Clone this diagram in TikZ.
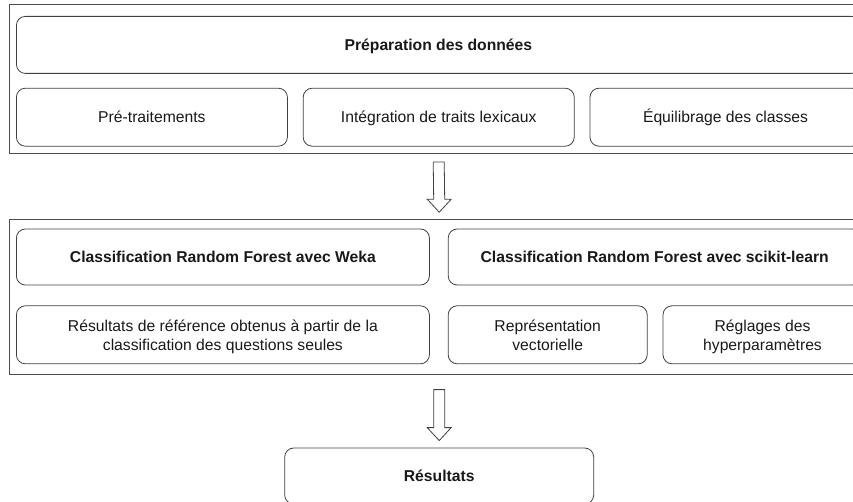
\documentclass[tikz,border=0pt]{standalone}
\usepackage{fontspec}
\setmainfont{Liberation Sans}
\usetikzlibrary{positioning,fit,calc}
\tikzstyle{block} = [rectangle, draw=black!75, line width=0.8pt, rounded corners=9pt, align=center, inner sep=0pt, minimum height=57pt, text depth=0pt, text=black!90, font=\fontsize{15.7}{19}\selectfont]
\tikzstyle{oneline} = [block, text height=11.2pt]
\tikzstyle{title} = [oneline, font=\fontsize{15.7}{19}\selectfont\bfseries]
\tikzstyle{panel} = [rectangle, draw=black!70, line width=0.8pt, inner sep=7pt]
\tikzstyle{hollow} = [draw=black!75, line width=0.8pt, line join=miter, to path={
    ([xshift=-5.5pt]\tikztostart) -- ([xshift=-5.5pt, yshift=13pt]\tikztotarget)
    -- ([xshift=-12pt, yshift=13pt]\tikztotarget) -- (\tikztotarget)
    -- ([xshift=12pt, yshift=13pt]\tikztotarget) -- ([xshift=5.5pt, yshift=13pt]\tikztotarget)
    -- ([xshift=5.5pt]\tikztostart) -- cycle}]

\begin{document}
\begin{tikzpicture}[x=1pt, y=1pt]
    \useasboundingbox (0,0) rectangle (853,-502);

    % Préparation des données
    \node[title, minimum width=844pt, anchor=north west] (prep) at (16,-16) {Préparation des données};
    \node[oneline, minimum width=271pt, minimum height=58pt, below right=14pt and 0pt of prep.south west] (pre) {Pré-traitements};
    \node[oneline, minimum width=271pt, minimum height=58pt, right=15pt of pre] (integ) {Intégration de traits lexicaux};
    \node[oneline, minimum width=271pt, minimum height=58pt, right=15pt of integ] (equi) {Équilibrage des classes};
    \node[panel, fit={([yshift=5pt]prep.north west) (equi.south east)}] (stage1) {};

    % Classification
    \node[title, minimum width=413pt, minimum height=56pt, below right=82pt and 0pt of pre.south west] (weka) {Classification Random Forest avec Weka};
    \node[title, minimum width=413pt, minimum height=56pt, right=18pt of weka] (sklearn) {Classification Random Forest avec scikit-learn};
    \node[block, minimum width=413pt, minimum height=58pt, below right=20pt and 0pt of weka.south west] (ref) {Résultats de référence obtenus à partir de la\\classification des questions seules};
    \node[block, minimum width=199pt, minimum height=58pt, right=18pt of ref] (vect) {Représentation\\vectorielle};
    \node[block, minimum width=199pt, minimum height=58pt, right=15pt of vect] (hyper) {Réglages des\\hyperparamètres};
    \node[panel, fit={([yshift=2pt]weka.north west) ([yshift=-3pt]hyper.south east)}] (stage2) {};

    % Résultats
    \node[title, minimum width=309pt, minimum height=56pt, below=73pt of stage2] (res) {Résultats};

    % flèches
    \coordinate[below=8pt of stage1] (a1top);
    \coordinate[above=7pt of stage2] (a1tip);
    \coordinate[below=15pt of stage2] (a2top);
    \coordinate[above=7pt of res] (a2tip);
    \draw[hollow] (a1top) to (a1tip);
    \draw[hollow] (a2top) to (a2tip);
\end{tikzpicture}
\end{document}
